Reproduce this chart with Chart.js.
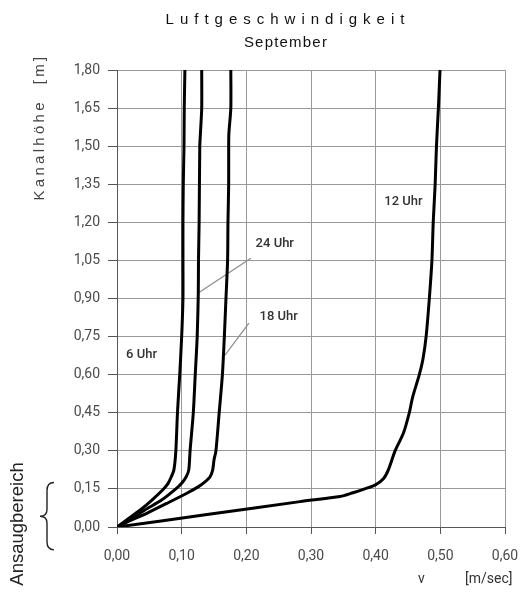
<!DOCTYPE html>
<html>
<head>
<meta charset="utf-8">
<script src="https://cdn.jsdelivr.net/npm/chart.js@4/dist/chart.umd.min.js"></script>
<style>
  html, body { margin: 0; padding: 0; background: #fff; }
  #wrap { width: 520px; height: 598px; position: relative; }
</style>
</head>
<body>
<div id="wrap"><canvas id="chart"></canvas></div>
<script>
// Luftgeschwindigkeit im Kanal, September
const xTicks = [0, 0.1, 0.2, 0.3, 0.4, 0.5, 0.6];
const yTicks = [0, 0.15, 0.3, 0.45, 0.6, 0.75, 0.9, 1.05, 1.2, 1.35, 1.5, 1.65, 1.8];

const h6 = [0, 0.028, 0.067, 0.106, 0.15, 0.172, 0.198, 0.225, 0.30, 0.45, 0.60, 0.75, 0.90, 1.05, 1.20, 1.35, 1.50, 1.65, 1.80];
const v6 = [0, 0.015, 0.036, 0.054, 0.072, 0.079, 0.084, 0.088, 0.091, 0.0935, 0.097, 0.100, 0.102, 0.102, 0.102, 0.1025, 0.1036, 0.104, 0.105];

const h24 = [0, 0.028, 0.067, 0.106, 0.15, 0.172, 0.198, 0.225, 0.30, 0.45, 0.60, 0.75, 0.92, 1.05, 1.20, 1.50, 1.55, 1.65, 1.80];
const v24 = [0, 0.020, 0.043, 0.069, 0.091, 0.100, 0.107, 0.111, 0.113, 0.118, 0.121, 0.124, 0.1257, 0.126, 0.127, 0.128, 0.129, 0.131, 0.131];

const h18 = [0, 0.021, 0.054, 0.093, 0.133, 0.159, 0.178, 0.198, 0.225, 0.264, 0.30, 0.45, 0.60, 0.75, 0.90, 1.05, 1.20, 1.35, 1.50, 1.55, 1.65, 1.80];
const v18 = [0, 0.017, 0.046, 0.077, 0.108, 0.126, 0.136, 0.144, 0.148, 0.150, 0.153, 0.158, 0.163, 0.166, 0.1685, 0.171, 0.1716, 0.1727, 0.1727, 0.173, 0.176, 0.176];

const h12 = [0, 0.05, 0.10, 0.12, 0.135, 0.15, 0.165, 0.19, 0.225, 0.30, 0.37, 0.45, 0.51, 0.60, 0.66, 0.75, 0.90, 1.05, 1.20, 1.35, 1.50, 1.65, 1.80];
const v12 = [0, 0.142, 0.283, 0.345, 0.365, 0.383, 0.399, 0.412, 0.4196, 0.43, 0.443, 0.452, 0.457, 0.4675, 0.473, 0.478, 0.483, 0.487, 0.489, 0.492, 0.494, 0.497, 0.4995];

// Beschriftungen der Kurven (Position in Datenkoordinaten)
const curveLabels = ['6 Uhr', '24 Uhr', '18 Uhr', '12 Uhr'];
const labelV = [0.038, 0.244, 0.250, 0.443];
const labelH = [0.677, 1.114, 0.827, 1.283];

// Hinweislinien 24 Uhr und 18 Uhr
const leader24V = [0.207, 0.125];
const leader24H = [1.059, 0.921];
const leader18V = [0.204, 0.167];
const leader18H = [0.803, 0.677];

const toPoints = (vs, hs) => vs.map((v, i) => ({ x: v, y: hs[i] }));

const FONT = "Roboto, 'Liberation Sans', sans-serif";
const FONT_TITLE = "'Liberation Sans', Arial, sans-serif";

function curve(label, vs, hs) {
    return {
        label: label,
        data: toPoints(vs, hs),
        showLine: true,
        borderColor: '#000',
        borderWidth: 3,
        pointRadius: 0,
        tension: 0.25,
        fill: false
    };
}

function leader(label, vs, hs) {
    return {
        label: label,
        data: toPoints(vs, hs),
        showLine: true,
        borderColor: '#8c8c8c',
        borderWidth: 1.2,
        pointRadius: 0,
        tension: 0
    };
}

const decorations = {
    id: 'decorations',
    afterDraw(chart) {
        const { ctx, scales: { x, y } } = chart;
        ctx.save();

        // Titel
        ctx.fillStyle = '#111';
        ctx.textAlign = 'center';
        ctx.textBaseline = 'middle';
        ctx.font = '15px ' + FONT_TITLE;
        ctx.letterSpacing = '6px';
        ctx.fillText('Luftgeschwindigkeit', 288, 20);
        ctx.letterSpacing = '1.2px';
        ctx.fillText('September', 286, 43);

        // Kurvenbeschriftungen
        ctx.letterSpacing = '0px';
        ctx.font = '500 13px ' + FONT;
        ctx.fillStyle = '#333';
        curveLabels.forEach((t, i) => {
            ctx.fillText(t, x.getPixelForValue(labelV[i]), y.getPixelForValue(labelH[i]));
        });

        // Achsentitel y
        ctx.save();
        ctx.translate(40, 127);
        ctx.rotate(-Math.PI / 2);
        ctx.font = '15px ' + FONT_TITLE;
        ctx.fillStyle = '#444';
        ctx.letterSpacing = '3.3px';
        ctx.fillText('Kanalhöhe  [m]', 0, 0);
        ctx.restore();

        // Ansaugbereich
        ctx.save();
        ctx.translate(18, 524);
        ctx.rotate(-Math.PI / 2);
        ctx.font = '18.5px ' + FONT_TITLE;
        ctx.fillStyle = '#222';
        ctx.fillText('Ansaugbereich', 0, 0);
        ctx.restore();

        // geschweifte Klammer
        const yTop = y.getPixelForValue(0.175);
        const yBot = y.getPixelForValue(-0.09);
        const yMid = (yTop + yBot) / 2;
        const xr = 54, xm = 47, xl = 40;
        ctx.strokeStyle = '#222';
        ctx.lineWidth = 1.4;
        ctx.beginPath();
        ctx.moveTo(xr, yTop);
        ctx.quadraticCurveTo(xm, yTop, xm, yTop + 8);
        ctx.lineTo(xm, yMid - 7);
        ctx.quadraticCurveTo(xm, yMid, xl, yMid);
        ctx.quadraticCurveTo(xm, yMid, xm, yMid + 7);
        ctx.lineTo(xm, yBot - 8);
        ctx.quadraticCurveTo(xm, yBot, xr, yBot);
        ctx.stroke();

        // Achsentitel x
        ctx.font = '14px ' + FONT;
        ctx.fillStyle = '#333';
        ctx.textAlign = 'left';
        ctx.fillText('v', 418, 579);
        ctx.fillText('[m/sec]', 465, 579);

        ctx.restore();
    }
};

const ctx = document.getElementById('chart').getContext('2d');
const chart = new Chart(ctx, {
    type: 'scatter',
    data: {
        datasets: [
            curve('6 Uhr', v6, h6),
            curve('24 Uhr', v24, h24),
            curve('18 Uhr', v18, h18),
            curve('12 Uhr', v12, h12),
            leader('24 Uhr Linie', leader24V, leader24H),
            leader('18 Uhr Linie', leader18V, leader18H)
        ]
    },
    options: {
        responsive: true,
        maintainAspectRatio: false,
        animation: false,
        layout: { padding: { top: 70, right: 0, left: 0, bottom: 0 } },
        plugins: {
            legend: { display: false },
            tooltip: { enabled: false },
            title: { display: false }
        },
        scales: {
            x: {
                type: 'linear',
                min: 0,
                max: 0.6,
                afterBuildTicks: (scale) => { scale.ticks = xTicks.map(v => ({ value: v })); },
                afterFit: (scale) => {
                    scale.height = 71;
                    scale.paddingLeft = 0;
                    scale.paddingRight = 15;
                },
                ticks: {
                    padding: 14,
                    color: '#4a4a4a',
                    font: { family: FONT, size: 14 },
                    callback: (v) => Number(v).toFixed(2).replace('.', ',')
                },
                grid: { color: '#999', lineWidth: 1, tickLength: 7, tickColor: '#555' },
                border: { color: '#555', width: 1 }
            },
            y: {
                type: 'linear',
                min: 0,
                max: 1.8,
                afterBuildTicks: (scale) => { scale.ticks = yTicks.map(v => ({ value: v })); },
                afterFit: (scale) => { scale.width = 117; },
                ticks: {
                    padding: 8,
                    color: '#4a4a4a',
                    font: { family: FONT, size: 14 },
                    callback: (v) => Number(v).toFixed(2).replace('.', ',')
                },
                grid: { color: '#999', lineWidth: 1, tickLength: 9, tickColor: '#555' },
                border: { color: '#555', width: 1 }
            }
        }
    },
    plugins: [decorations]
});
</script>
</body>
</html>
